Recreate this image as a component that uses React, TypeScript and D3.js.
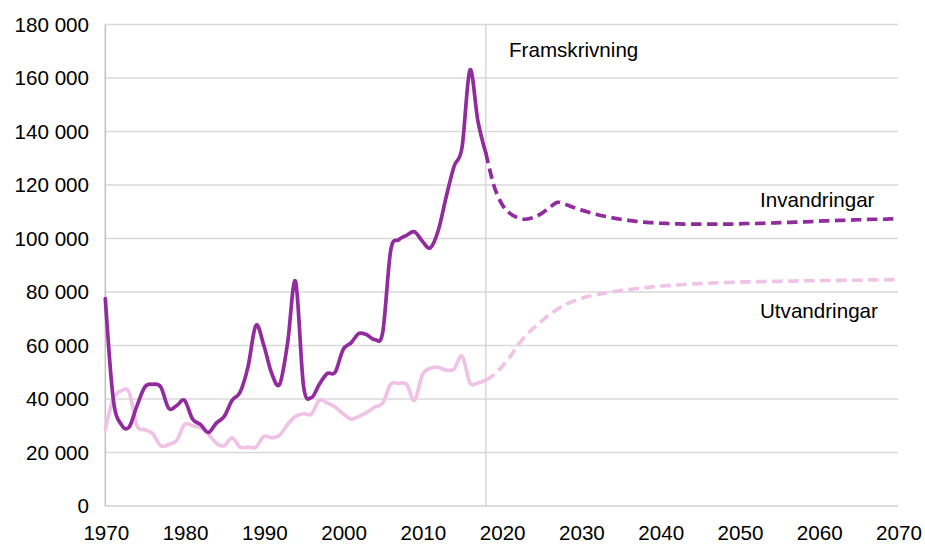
import React from "react";
import * as d3 from "d3";

const histYears: number[] = d3.range(1970, 2019);
const projYears: number[] = d3.range(2018, 2071);

const invHist: number[] = [
  77500, 40000, 30500, 29500, 37500, 44500, 45500, 44500, 36500, 37500,
  39500, 32500, 30500, 27500, 31000, 33500, 39500, 42500, 52000, 67500,
  60000, 49500, 45500, 61000, 84000, 45000, 40500, 45500, 49500, 50000,
  58500, 61000, 64500, 64000, 62200, 65000, 95500, 99500, 101200, 102500,
  99000, 96500, 103000, 115500, 127000, 134000, 163000, 144000, 132000,
];

const utvHist: number[] = [
  28500, 40000, 43000, 42500, 30000, 28500, 27000, 22500, 23000, 24500,
  30500, 30000, 29300, 26800, 23500, 22500, 25500, 22000, 22000, 22000,
  26000, 25500, 26500, 30500, 33500, 34500, 34300, 39500, 38500, 37000,
  34500, 32500, 33500, 35000, 37000, 38500, 45500, 45800, 45500, 39500,
  49000, 51500, 51800, 50800, 51200, 56000, 46000, 46000, 47000,
];

const invProj: number[] = [
  132000, 120000,
  113000, 109500, 107800, 107200, 107800, 109300, 111500, 113500, 112800, 111700,
  110700, 109800, 109000, 108300, 107700, 107200, 106800, 106400, 106100, 105900,
  105700, 105600, 105500, 105400, 105400, 105400, 105400, 105400, 105400, 105400,
  105500, 105600, 105600, 105700, 105800, 105900, 106000, 106100, 106200, 106300,
  106500, 106600, 106700, 106800, 106900, 107000, 107100, 107200, 107200, 107300,
  107400,
];

const utvProj: number[] = [
  47000, 49000,
  52000, 55500, 60000, 63500, 66500, 69000, 71500, 73500, 75200, 76500,
  77600, 78400, 79000, 79600, 80100, 80500, 80900, 81300, 81600, 81900,
  82200, 82400, 82600, 82800, 83000, 83100, 83200, 83400, 83500, 83600,
  83700, 83800, 83900, 83900, 84000, 84000, 84100, 84100, 84200, 84200,
  84300, 84300, 84300, 84400, 84400, 84400, 84500, 84500, 84500, 84600,
  84600,
];

const yTicks: number[] = [0, 20000, 40000, 60000, 80000, 100000, 120000, 140000, 160000, 180000];
const xTicks: number[] = [1970, 1980, 1990, 2000, 2010, 2020, 2030, 2040, 2050, 2060, 2070];
const projStartYear = 2018;

const seriesLabels = { inv: "Invandringar", utv: "Utvandringar", proj: "Framskrivning" };

const DARK = "#922B9E";
const PINK = "#F0C3E6";
const GRID = "#D9D9D9";
const FONT = "'Liberation Sans', Arial, sans-serif";

export default function App() {
  const W = 925;
  const H = 544;
  const x = d3.scaleLinear().domain([1970, 2070]).range([105.3, 898]);
  const y = d3.scaleLinear().domain([0, 180000]).range([506, 24.5]);
  const fmt = (v: number) => d3.format(",")(v).replace(/,/g, " ");

  const line = d3
    .line<[number, number]>()
    .x((d) => x(d[0]))
    .y((d) => y(d[1]))
    .curve(d3.curveCardinal.tension(0));

  const pts = (yrs: number[], vals: number[]) => yrs.map((yr, i) => [yr, vals[i]] as [number, number]);

  const fs = 20.6;

  return (
    <svg
      width={W}
      height={H}
      style={{ position: "absolute", left: 0, top: 0, background: "#fff" }}
      fontFamily={FONT}
    >
      {yTicks.map((t) =>
        t === 0 ? null : (
          <line key={"g" + t} x1={x(1970)} x2={x(2070)} y1={y(t)} y2={y(t)} stroke={GRID} strokeWidth={1.3} />
        )
      )}
      <line x1={x(projStartYear)} x2={x(projStartYear)} y1={y(0)} y2={y(180000)} stroke={GRID} strokeWidth={1.5} />
      <line x1={x(1970)} x2={x(2070)} y1={y(0)} y2={y(0)} stroke="#CFCFCF" strokeWidth={1.5} />
      <line x1={x(1970)} x2={x(1970)} y1={y(0)} y2={y(180000)} stroke="#C4C4C4" strokeWidth={1.6} />

      {yTicks.map((t) => (
        <text key={"yl" + t} x={89} y={y(t) + 7.3} textAnchor="end" fontSize={fs} fill="#000">
          {fmt(t)}
        </text>
      ))}
      {xTicks.map((t) => (
        <text key={"xl" + t} x={x(t) + 1} y={539.5} textAnchor="middle" fontSize={fs} fill="#000">
          {t}
        </text>
      ))}

      <path d={line(pts(histYears, utvHist)) || ""} fill="none" stroke={PINK} strokeWidth={3.7} strokeLinejoin="round" strokeLinecap="round" />
      <path d={line(pts(projYears, utvProj)) || ""} fill="none" stroke={PINK} strokeWidth={3.7} strokeDasharray="10.5 5.5" />
      <path d={line(pts(histYears, invHist)) || ""} fill="none" stroke={DARK} strokeWidth={3.7} strokeLinejoin="round" strokeLinecap="round" />
      <path d={line(pts(projYears, invProj)) || ""} fill="none" stroke={DARK} strokeWidth={3.7} strokeDasharray="10.5 5.5" />

      <text x={509} y={57} fontSize={fs} fill="#000">{seriesLabels.proj}</text>
      <text x={760} y={207} fontSize={fs} fill="#000">{seriesLabels.inv}</text>
      <text x={760} y={318} fontSize={fs} fill="#000">{seriesLabels.utv}</text>
    </svg>
  );
}
